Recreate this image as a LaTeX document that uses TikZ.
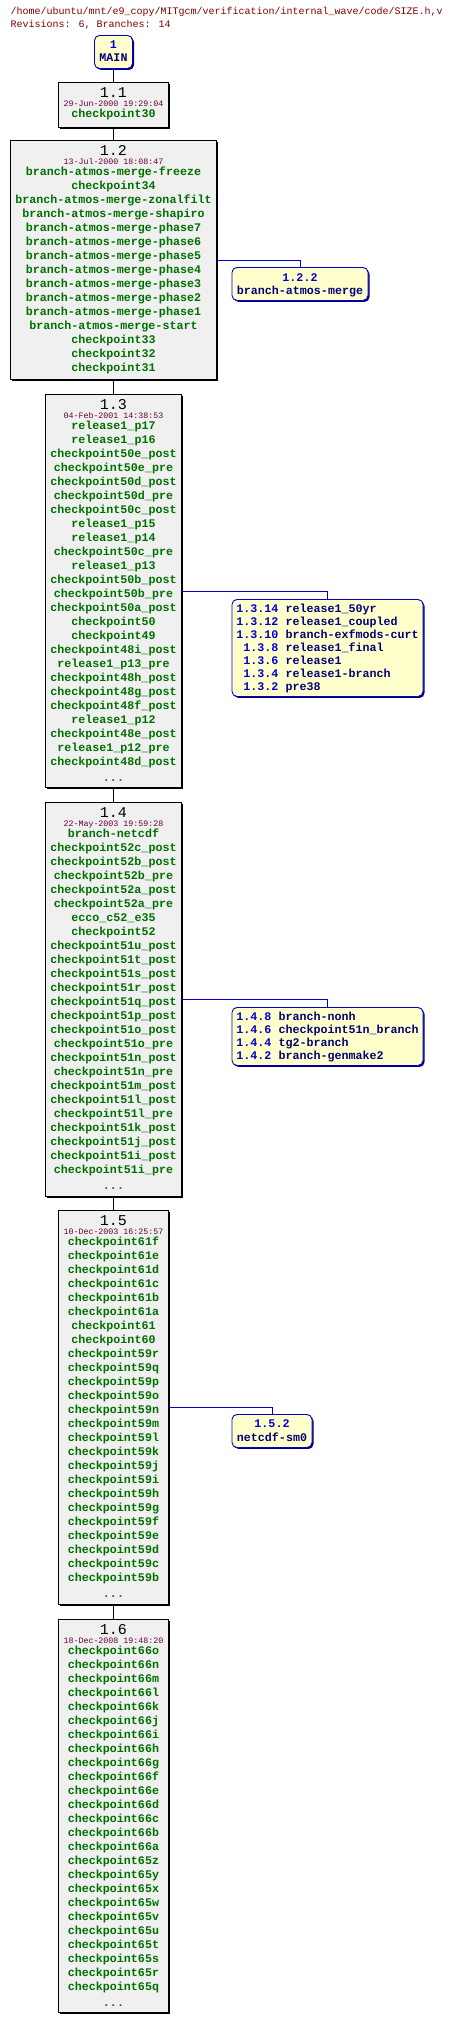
\documentclass[tikz,border=0pt]{standalone}
\usepackage{fontspec}
\newfontfamily\cvsmono{Liberation Mono}
\usetikzlibrary{shadows}

\definecolor{boxgray}{RGB}{240,240,240}
\definecolor{bryellow}{RGB}{255,255,204}
\definecolor{brblue}{RGB}{0,0,204}
\definecolor{brnavy}{RGB}{0,0,120}
\definecolor{tagcol}{RGB}{0,112,0}
\definecolor{datecol}{RGB}{102,0,51}
\definecolor{headcol}{RGB}{128,0,0}

\begin{document}
\begin{tikzpicture}[
    x=1pt, y=-1pt,                    % pixel-like units, y going down
    revbox/.style={draw=black, line width=1pt, fill=boxgray, anchor=north, inner sep=0pt,
      drop shadow={shadow xshift=1.5pt, shadow yshift=-1.5pt, fill=black, opacity=1}},
    brbox/.style={draw=brblue, line width=0.9pt, fill=bryellow, rounded corners=5pt, anchor=north, inner sep=0pt,
      drop shadow={shadow xshift=1.5pt, shadow yshift=-1.5pt, fill=brnavy, opacity=1}},
    revnum/.style={anchor=base, inner sep=0pt, font=\cvsmono\fontsize{15}{15}\selectfont},
    revdate/.style={anchor=base, inner sep=0pt, text=datecol, font=\cvsmono\fontsize{8.33}{9}\selectfont},
    tag/.style={anchor=base, inner sep=0pt, text=tagcol, font=\cvsmono\bfseries\fontsize{11.67}{14}\selectfont},
    brnum/.style={inner sep=0pt, text=brblue, font=\cvsmono\bfseries\fontsize{11.67}{13}\selectfont},
    brname/.style={inner sep=0pt, text=brnavy, font=\cvsmono\bfseries\fontsize{11.67}{13}\selectfont},
    head/.style={anchor=base west, inner sep=0pt, text=headcol, font=\cvsmono\fontsize{10}{12}\selectfont},
    trunk/.style={draw=black, line width=1pt},
    branchline/.style={draw=brblue, line width=1pt}
    ]
    \useasboundingbox (0,0) rectangle (452,2021);

    % Header
    \node[head] (title) at (10.5,14.5) {/home/ubuntu/mnt/e9\_copy/MITgcm/verification/internal\_wave/code/SIZE.h,v};
    \node[head] (counts) at (10.5,27.5) {Revisions: 6, Branches: 14};

    % MAIN
    \node[brbox, minimum width=38pt, minimum height=33pt] (main) at (113.5,35) {};
    \node[brnum, anchor=base] (main-n) at (113.5,48.5) {1};
    \node[brname, anchor=base] (main-s) at (113.5,61.5) {MAIN};

    % Revision 1.1
    \node[revbox, minimum width=110pt, minimum height=45pt] (r11) at (113.5,82) {};
    \node[revnum] (r11-n) at (113.5,97) {1.1};
    \node[revdate] (r11-d) at (113.5,106) {29-Jun-2000 19:29:04};
    \node[tag] (r11-t1) at (113.5,117) {checkpoint30};

    % Revision 1.2
    \node[revbox, minimum width=206pt, minimum height=239pt] (r12) at (113.5,140) {};
    \node[revnum] (r12-n) at (113.5,155.5) {1.2};
    \node[revdate] (r12-d) at (113.5,164.5) {13-Jul-2000 18:08:47};
    \foreach \t [count=\i] in {branch-atmos-merge-freeze,checkpoint34,branch-atmos-merge-zonalfilt,
        branch-atmos-merge-shapiro,branch-atmos-merge-phase7,branch-atmos-merge-phase6,
        branch-atmos-merge-phase5,branch-atmos-merge-phase4,branch-atmos-merge-phase3,
        branch-atmos-merge-phase2,branch-atmos-merge-phase1,branch-atmos-merge-start,
        checkpoint33,checkpoint32,checkpoint31}
      \node[tag] (r12-t\i) at (113.5,{175.5+14*(\i-1)}) {\t};

    % Revision 1.3
    \node[revbox, minimum width=136pt, minimum height=393pt] (r13) at (113.5,394) {};
    \node[revnum] (r13-n) at (113.5,409.5) {1.3};
    \node[revdate] (r13-d) at (113.5,418.5) {04-Feb-2001 14:38:53};
    \foreach \t [count=\i] in {release1\_p17,release1\_p16,checkpoint50e\_post,checkpoint50e\_pre,
        checkpoint50d\_post,checkpoint50d\_pre,checkpoint50c\_post,release1\_p15,release1\_p14,
        checkpoint50c\_pre,release1\_p13,checkpoint50b\_post,checkpoint50b\_pre,checkpoint50a\_post,
        checkpoint50,checkpoint49,checkpoint48i\_post,release1\_p13\_pre,checkpoint48h\_post,
        checkpoint48g\_post,checkpoint48f\_post,release1\_p12,checkpoint48e\_post,release1\_p12\_pre,
        checkpoint48d\_post}
      \node[tag] (r13-t\i) at (113.5,{429.5+14*(\i-1)}) {\t};
    \node[tag] (r13-more) at (113.5,781.5) {...};

    % Revision 1.4
    \node[revbox, minimum width=136pt, minimum height=394pt] (r14) at (113.5,802) {};
    \node[revnum] (r14-n) at (113.5,817.5) {1.4};
    \node[revdate] (r14-d) at (113.5,826.5) {22-May-2003 19:59:28};
    \foreach \t [count=\i] in {branch-netcdf,checkpoint52c\_post,checkpoint52b\_post,checkpoint52b\_pre,
        checkpoint52a\_post,checkpoint52a\_pre,ecco\_c52\_e35,checkpoint52,checkpoint51u\_post,
        checkpoint51t\_post,checkpoint51s\_post,checkpoint51r\_post,checkpoint51q\_post,
        checkpoint51p\_post,checkpoint51o\_post,checkpoint51o\_pre,checkpoint51n\_post,
        checkpoint51n\_pre,checkpoint51m\_post,checkpoint51l\_post,checkpoint51l\_pre,
        checkpoint51k\_post,checkpoint51j\_post,checkpoint51i\_post,checkpoint51i\_pre}
      \node[tag] (r14-t\i) at (113.5,{837.5+14*(\i-1)}) {\t};
    \node[tag] (r14-more) at (113.5,1189.5) {...};

    % Revision 1.5
    \node[revbox, minimum width=110pt, minimum height=394pt] (r15) at (113.5,1210) {};
    \node[revnum] (r15-n) at (113.5,1225.5) {1.5};
    \node[revdate] (r15-d) at (113.5,1234.5) {10-Dec-2003 16:25:57};
    \foreach \t [count=\i] in {checkpoint61f,checkpoint61e,checkpoint61d,checkpoint61c,checkpoint61b,
        checkpoint61a,checkpoint61,checkpoint60,checkpoint59r,checkpoint59q,checkpoint59p,
        checkpoint59o,checkpoint59n,checkpoint59m,checkpoint59l,checkpoint59k,checkpoint59j,
        checkpoint59i,checkpoint59h,checkpoint59g,checkpoint59f,checkpoint59e,checkpoint59d,
        checkpoint59c,checkpoint59b}
      \node[tag] (r15-t\i) at (113.5,{1245.5+14*(\i-1)}) {\t};
    \node[tag] (r15-more) at (113.5,1597.5) {...};

    % Revision 1.6
    \node[revbox, minimum width=110pt, minimum height=393pt] (r16) at (113.5,1619) {};
    \node[revnum] (r16-n) at (113.5,1634.5) {1.6};
    \node[revdate] (r16-d) at (113.5,1643.5) {18-Dec-2008 19:48:20};
    \foreach \t [count=\i] in {checkpoint66o,checkpoint66n,checkpoint66m,checkpoint66l,checkpoint66k,
        checkpoint66j,checkpoint66i,checkpoint66h,checkpoint66g,checkpoint66f,checkpoint66e,
        checkpoint66d,checkpoint66c,checkpoint66b,checkpoint66a,checkpoint65z,checkpoint65y,
        checkpoint65x,checkpoint65w,checkpoint65v,checkpoint65u,checkpoint65t,checkpoint65s,
        checkpoint65r,checkpoint65q}
      \node[tag] (r16-t\i) at (113.5,{1654.5+14*(\i-1)}) {\t};
    \node[tag] (r16-more) at (113.5,2006.5) {...};

    % Branch boxes
    \node[brbox, minimum width=136pt, minimum height=33pt] (b122) at (300,267) {};
    \node[brnum, anchor=base] (b122-n) at (300,281.5) {1.2.2};
    \node[brname, anchor=base] (b122-s) at (300,294.5) {branch-atmos-merge};

    \node[brbox, minimum width=191pt, minimum height=97pt] (b13) at (327.5,599) {};
    \foreach \n/\s [count=\i] in {1.3.14/release1\_50yr,1.3.12/release1\_coupled,
        1.3.10/branch-exfmods-curt,1.3.8/release1\_final,1.3.6/release1,
        1.3.4/release1-branch,1.3.2/pre38} {
      \node[brnum, anchor=base east] (b13-n\i) at (278.5,{612.5+13*(\i-1)}) {\n};
      \node[brname, anchor=base west] (b13-s\i) at (285.5,{612.5+13*(\i-1)}) {\s};
    }

    \node[brbox, minimum width=191pt, minimum height=58pt] (b14) at (327.5,1007) {};
    \foreach \n/\s [count=\i] in {1.4.8/branch-nonh,1.4.6/checkpoint51n\_branch,
        1.4.4/tg2-branch,1.4.2/branch-genmake2} {
      \node[brnum, anchor=base east] (b14-n\i) at (271.5,{1020+13*(\i-1)}) {\n};
      \node[brname, anchor=base west] (b14-s\i) at (278.5,{1020+13*(\i-1)}) {\s};
    }

    \node[brbox, minimum width=80pt, minimum height=33pt] (b152) at (272,1414) {};
    \node[brnum, anchor=base] (b152-n) at (272,1427.5) {1.5.2};
    \node[brname, anchor=base] (b152-s) at (272,1441) {netcdf-sm0};

    % Trunk
    \draw[trunk] (main) -- (r11);
    \draw[trunk] (r11) -- (r12);
    \draw[trunk] (r12) -- (r13);
    \draw[trunk] (r13) -- (r14);
    \draw[trunk] (r14) -- (r15);
    \draw[trunk] (r15) -- (r16);

    % Branches
    \draw[branchline] (r12.east) -| (b122.north);
    \draw[branchline] (r13.east) -| (b13.north);
    \draw[branchline] (r14.east) -| (b14.north);
    \draw[branchline] (r15.east) -| (b152.north);
\end{tikzpicture}
\end{document}
